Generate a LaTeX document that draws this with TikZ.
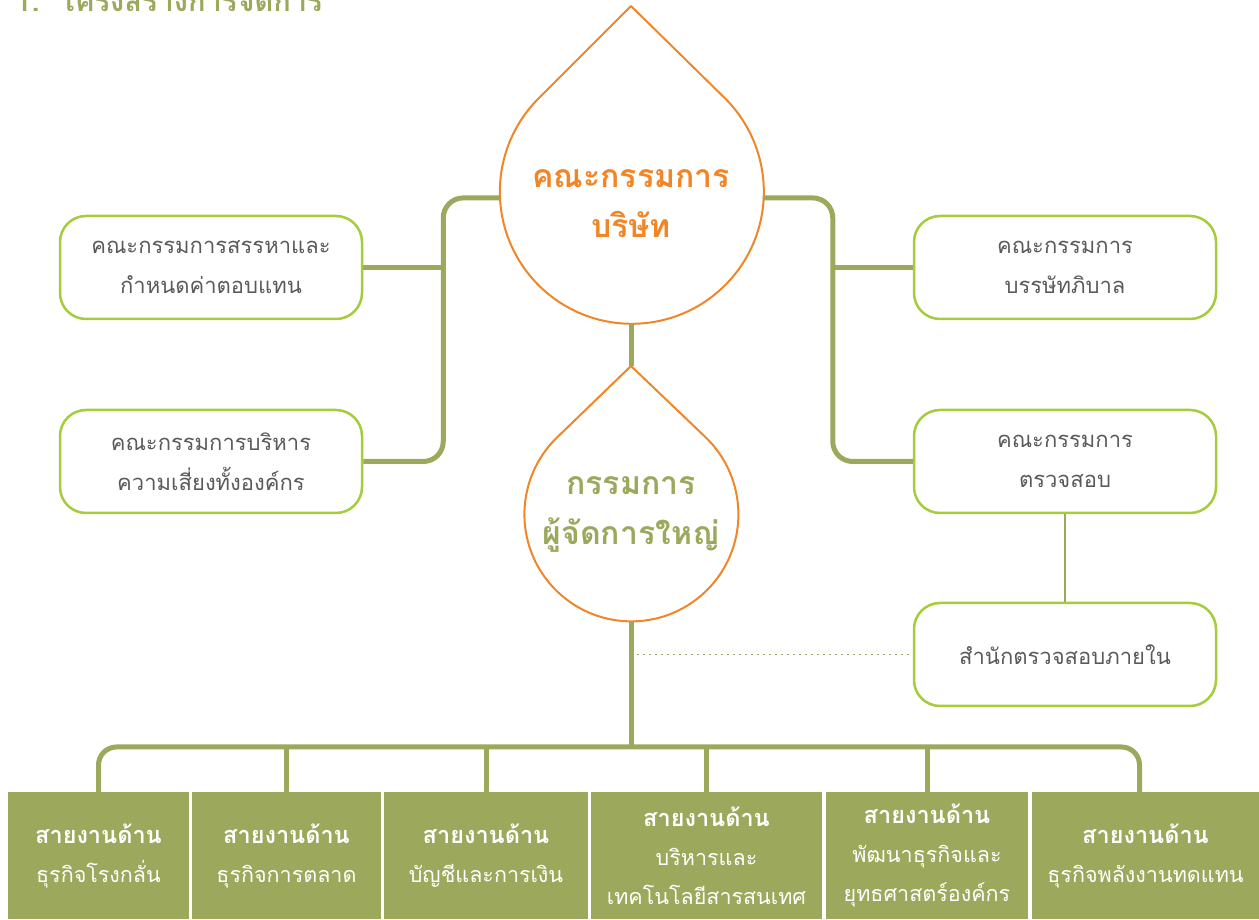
\documentclass[tikz,border=0pt]{standalone}
\usepackage{fontspec}
\newfontfamily\thaifont[Script=Thai]{Loma}
\usepackage{tikz}
\usetikzlibrary{calc}

\definecolor{olivegreen}{HTML}{9CA85C}
\definecolor{limegreen}{HTML}{A5CC3A}
\definecolor{droporange}{HTML}{F28526}
\definecolor{textgray}{HTML}{5A5A5A}

\newcommand{\divhead}[1]{{\bfseries\fontsize{23.5}{39}\selectfont #1}}

\begin{document}
\begin{tikzpicture}[x=1pt, y=1pt,
  trunk/.style={olivegreen, line width=5pt},
  thinline/.style={olivegreen, line width=2pt},
  dotline/.style={olivegreen, line width=1.8pt, dash pattern=on 1.8pt off 4.2pt},
  dropline/.style={droporange, line width=2pt, line join=round},
  dropshape/.style={circle, inner sep=0pt, outer sep=0pt},
  droptext/.style={align=center, font=\thaifont\bfseries\fontsize{32}{50}\selectfont},
  sidebox/.style={draw=limegreen, line width=2.5pt, rounded corners=26pt, minimum width=302pt, minimum height=103pt, align=center, text=textgray, font=\thaifont\fontsize{22}{40}\selectfont},
  divbox/.style={fill=olivegreen, minimum height=127pt, inner sep=0pt, align=center, text=white, font=\thaifont\fontsize{21.5}{39}\selectfont},
]
\useasboundingbox (0,0) rectangle (1259,919);

\node[anchor=base west, text=olivegreen, font=\thaifont\bfseries\fontsize{29}{29}\selectfont] (heading) at (12,907) {1.\hspace{20pt}โครงสร้างการจัดการ};

% drops
\node[dropshape, minimum size=264pt] (board) at (631,728) {};
\coordinate (boardtip) at ($(board.center)+(0,185)$);
\draw[dropline] (boardtip) -- (board.45.5) arc[start angle=45.5, end angle=-225.5, radius=132pt] -- cycle;
\node[droptext, text=droporange] (boardname) at (631,715) {คณะกรรมการ\\บริษัท};

\node[dropshape, minimum size=214pt] (ceo) at (631,405) {};
\coordinate (ceotip) at ($(ceo.center)+(0,148)$);
\draw[dropline] (ceotip) -- (ceo.46.3) arc[start angle=46.3, end angle=-226.3, radius=107pt] -- cycle;
\node[droptext, text=olivegreen] (ceoname) at (631,405) {กรรมการ\\ผู้จัดการใหญ่};

% committees
\node[sidebox] (nomination) at (211,651.5) {คณะกรรมการสรรหาและ\\กำหนดค่าตอบแทน};
\node[sidebox] (risk) at (211,457.5) {คณะกรรมการบริหาร\\ความเสี่ยงทั้งองค์กร};
\node[sidebox] (governance) at (1065,651.5) {คณะกรรมการ\\บรรษัทภิบาล};
\node[sidebox] (audit) at (1065,457.5) {คณะกรรมการ\\ตรวจสอบ};
\node[sidebox] (internal) at (1065,264.5) {สำนักตรวจสอบภายใน};

% divisions
\node[divbox, minimum width=181pt] (refinery) at (98.5,63.5) {\divhead{สายงานด้าน}\\ธุรกิจโรงกลั่น};
\node[divbox, minimum width=189pt] (marketing) at (286.5,63.5) {\divhead{สายงานด้าน}\\ธุรกิจการตลาด};
\node[divbox, minimum width=204pt] (finance) at (486,63.5) {\divhead{สายงานด้าน}\\บัญชีและการเงิน};
\node[divbox, minimum width=231pt] (itman) at (706.5,63.5) {\divhead{สายงานด้าน}\\บริหารและ\\เทคโนโลยีสารสนเทศ};
\node[divbox, minimum width=202pt] (strategy) at (927,63.5) {\divhead{สายงานด้าน}\\พัฒนาธุรกิจและ\\ยุทธศาสตร์องค์กร};
\node[divbox, minimum width=227pt] (renewable) at (1145.5,63.5) {\divhead{สายงานด้าน}\\ธุรกิจพลังงานทดแทน};

% connectors
\coordinate (lspine) at ($(risk.east)+(80,0)$);
\coordinate (rspine) at ($(audit.west)+(-80,0)$);
\coordinate (bus) at (631,172);

\draw[trunk, rounded corners=20pt] (board.183) -| (lspine) -- (risk.east);
\draw[trunk] (nomination.east) -- (nomination.east -| lspine);
\draw[trunk, rounded corners=20pt] (board.-3) -| (rspine) -- (audit.west);
\draw[trunk] (governance.west) -- (governance.west -| rspine);
\draw[trunk] (board.south) -- (ceotip);
\draw[trunk] (ceo.south) -- (bus);
\draw[trunk, rounded corners=18pt] (refinery.north) |- (bus) -| ($(renewable.north)+(-6,0)$);
\foreach \d in {marketing,finance,itman,strategy}
  \draw[trunk] (\d.north) -- (\d.north |- bus);

\draw[thinline] (audit.south) -- (internal.north);
\draw[dotline] (ceo.south |- internal.west) -- (internal.west);
\end{tikzpicture}
\end{document}
